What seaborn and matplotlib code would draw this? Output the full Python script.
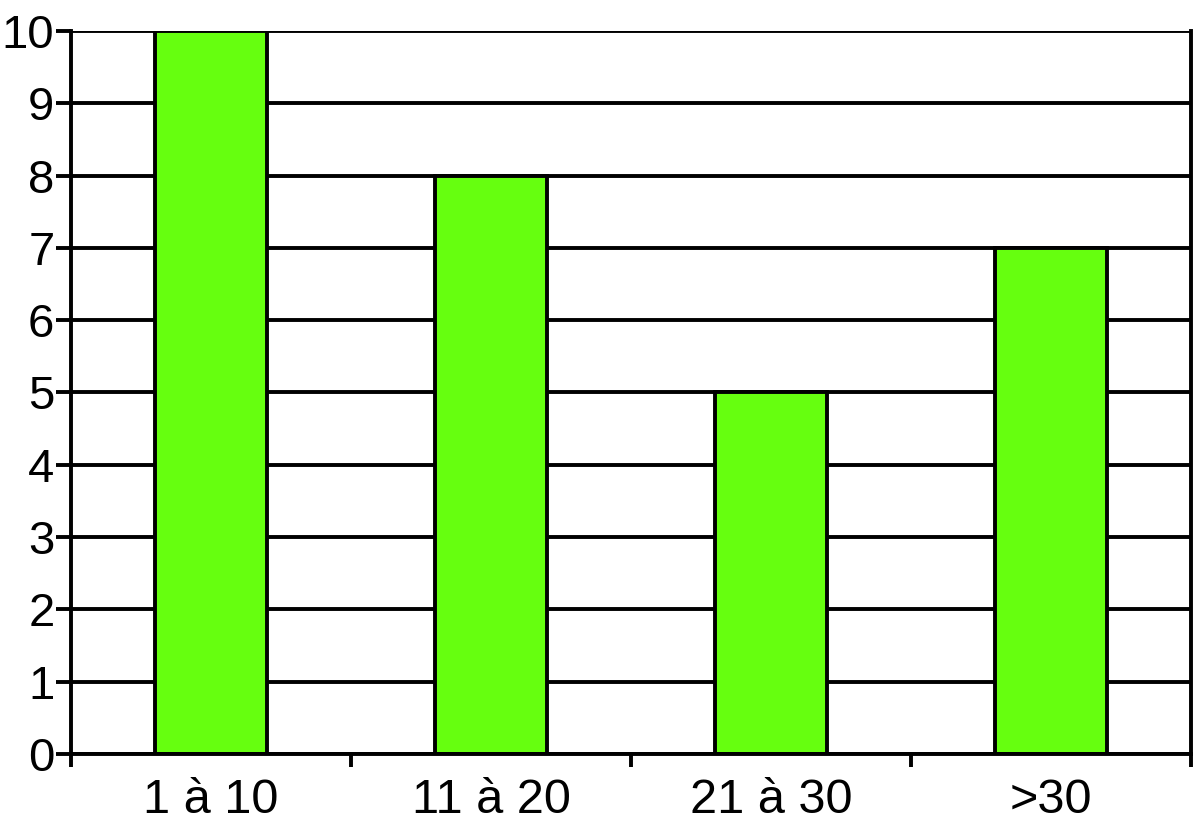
import matplotlib
matplotlib.use("Agg")
import matplotlib.pyplot as plt
import seaborn as sns
import pandas as pd
import numpy as np

categories = ["1 à 10", "11 à 20", "21 à 30", ">30"]
values = [10, 8, 5, 7]

sns.set_theme(style="white")
plt.rcParams['font.family'] = ['Liberation Sans', 'DejaVu Sans']

df = pd.DataFrame({"cat": categories, "val": values})

fig = plt.figure(figsize=(11.94, 8.26), dpi=100)
ax = fig.add_axes([0.0595, 0.0872, 0.938, 0.8753])

LW = 2.8
ax.yaxis.grid(True, color="black", linewidth=LW)
ax.set_axisbelow(True)

sns.barplot(data=df, x="cat", y="val", color="#66FF0F", saturation=1,
            width=0.4, edgecolor="black", linewidth=LW, ax=ax)

ax.set_xlim(-0.5, len(categories) - 0.5)
ax.set_ylim(0, 10)
ax.set_yticks(range(0, 11))
ax.set_xlabel("")
ax.set_ylabel("")

ax.set_xticks(np.arange(-0.5, len(categories), 1.0), minor=True)
ax.tick_params(axis="x", which="major", length=0, labelsize=35, pad=17, colors="black")
ax.tick_params(axis="x", which="minor", length=9, width=LW, direction="out", color="black", bottom=True)
ax.tick_params(axis="y", which="major", length=11, width=LW, direction="out", labelsize=34, pad=1, colors="black", left=True)

for side in ["left", "bottom", "right"]:
    ax.spines[side].set_visible(True)
    ax.spines[side].set_color("black")
    ax.spines[side].set_linewidth(LW)
ax.spines["top"].set_visible(False)

fig.savefig("out.png", dpi=100, facecolor="white")
